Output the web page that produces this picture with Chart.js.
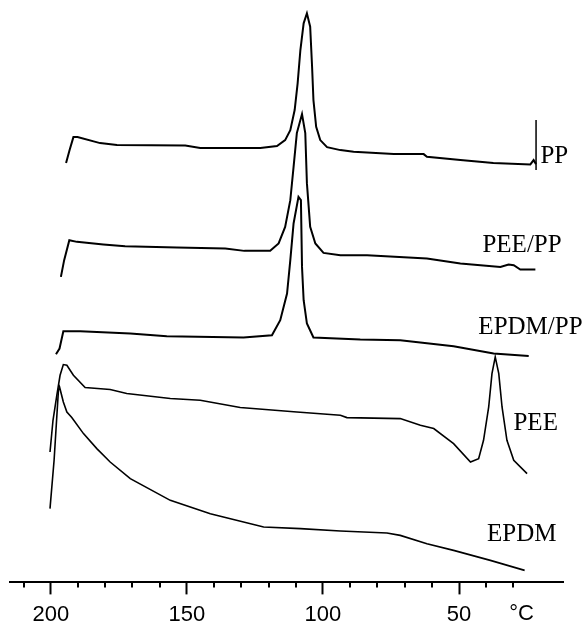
<!DOCTYPE html>
<html>
<head>
<meta charset="utf-8">
<script src="https://cdn.jsdelivr.net/npm/chart.js@4.4.1/dist/chart.umd.min.js"></script>
<style>
  body { margin: 0; background: #fff; }
  canvas { display: block; }
</style>
</head>
<body>
<canvas id="mycanvas" width="586" height="624"></canvas>
<script>
// DSC cooling curves, temperature in degC, heat flow in arbitrary (offset) units
var ppTemp = [194.4, 193.1, 191.7, 190.2, 181.9, 175.7, 150.6, 145.1, 123.0, 116.9, 113.9, 112.0, 110.4, 109.3, 108.3, 107.1, 105.9, 104.7, 104.0, 103.5, 102.5, 101.0, 98.5, 93.6, 88.75, 74.0, 63.0, 61.8, 49.5, 37.4, 23.8, 22.6, 21.7];
var ppFlow = [419, 432, 445, 445, 439, 437, 436.7, 434, 434, 436, 442, 452, 472, 499, 532, 558.7, 568.7, 555.3, 515.3, 482, 455.3, 442, 435, 432, 430.3, 428, 428, 425.3, 422, 419, 417.7, 422, 418];
var ppMarkTemp = [21.7, 21.7];
var ppMarkFlow = [412, 462];

var peePpTemp = [196.3, 195.1, 193.2, 190.4, 180.7, 172.7, 153.7, 135.9, 128.9, 119.4, 116.3, 113.9, 112.0, 110.8, 109.6, 107.7, 106.5, 105.9, 104.7, 102.8, 99.8, 93.6, 83.8, 61.8, 49.5, 34.8, 31.8, 29.9, 27.5, 21.95];
var peePpFlow = [305.3, 322, 342, 340.3, 337.7, 336, 334.7, 333.7, 331.3, 331.3, 338.7, 355.3, 382, 415.3, 449, 468, 449, 399, 355.3, 338.7, 329.3, 327, 327, 323.7, 318.7, 315.3, 317.7, 317, 312.7, 312.7];

var epdmPpTemp = [198.1, 196.8, 195.4, 189.2, 170.8, 157.4, 129.2, 118.75, 115.7, 113.2, 112.0, 110.8, 109.0, 108.1, 107.7, 107.1, 105.9, 103.5, 86.3, 71.6, 52.0, 37.3, 24.4];
var epdmPpFlow = [228, 233.7, 251, 251, 248.7, 246, 244.7, 247, 262, 288.7, 322, 358.7, 385.3, 382, 315.3, 282, 258.7, 244.7, 242.7, 242, 236, 228.7, 226.3];

var peeTemp = [200.3, 199.2, 197.8, 196.6, 195.4, 194.1, 191.7, 187.4, 178.2, 172.1, 156.1, 145.1, 130.4, 109.6, 93.6, 91.2, 71.6, 64.2, 59.3, 52.0, 45.8, 42.8, 41.0, 39.1, 37.9, 36.7, 35.4, 34.2, 32.4, 29.9, 25.0];
var peeFlow = [130.3, 162, 187, 207, 217.7, 217, 207, 194.7, 192.7, 188.7, 183.7, 182, 174.7, 170.3, 167, 164.7, 163.7, 157, 153.7, 138.7, 120.3, 123.7, 142, 175.3, 208.7, 225.3, 208.7, 175.3, 142, 122, 108.7];

var epdmTemp = [200.3, 198.8, 197.2, 196.8, 195.4, 194.1, 192.3, 188.0, 183.1, 178.2, 170.8, 156.1, 141.4, 121.8, 108.3, 93.6, 76.5, 71.6, 61.8, 52.0, 38.5, 25.9];
var epdmFlow = [73.7, 122, 192, 195.3, 180.3, 170.3, 164.7, 148.7, 133.7, 120.3, 103.7, 82, 68.7, 55.3, 53.7, 51.3, 49.3, 47, 38.7, 32, 22, 12];

var curveNames = ['PP', 'PEE/PP', 'EPDM/PP', 'PEE', 'EPDM'];
// where each name sits (temperature, heat flow)
var labelTemp = [20.1, 41.4, 42.9, 30.0, 39.7];
var labelFlow = [426, 337, 255, 159, 48];

var tickLabels = [200, 150, 100, 50];

function pts(t, f) {
	var out = [];
	for (var i in t) {
		out.push({x: t[i], y: f[i]});
	}
	return out;
}

function line(label, t, f, w) {
	return {
		label: label,
		data: pts(t, f),
		borderColor: '#000',
		borderWidth: w,
		pointRadius: 0,
		fill: false,
		tension: 0
	};
}

var curveLabels = {
	id: 'curveLabels',
	afterDraw: function(chart) {
		var ctx = chart.ctx;
		var xs = chart.scales.x;
		var ys = chart.scales.y;
		ctx.save();
		ctx.fillStyle = '#000';
		ctx.font = '25px "Liberation Serif", "Times New Roman", serif';
		ctx.textAlign = 'left';
		ctx.textBaseline = 'middle';
		for (var i in curveNames) {
			ctx.fillText(curveNames[i], xs.getPixelForValue(labelTemp[i]), ys.getPixelForValue(labelFlow[i]));
		}
		// minor ticks
		ctx.strokeStyle = '#000';
		ctx.lineWidth = 2;
		var top = chart.chartArea.bottom;
		for (var v = 30; v <= 210; v += 10) {
			if (v % 50 === 0) continue;
			var px = Math.round(xs.getPixelForValue(v));
			ctx.beginPath();
			ctx.moveTo(px, top);
			ctx.lineTo(px, top + 5);
			ctx.stroke();
		}
		// unit
		ctx.font = '22px "Liberation Sans Narrow", "Liberation Sans", sans-serif';
		ctx.textAlign = 'center';
		ctx.fillText('\u00B0C', xs.getPixelForValue(27), top + 32);
		ctx.restore();
	}
};

var ctx = document.getElementById('mycanvas');

var chart = new Chart(ctx, {
	type: 'line',
	data: {
		datasets: [
			line('PP', ppTemp, ppFlow, 2),
			line('PP end', ppMarkTemp, ppMarkFlow, 1.5),
			line('PEE/PP', peePpTemp, peePpFlow, 2),
			line('EPDM/PP', epdmPpTemp, epdmPpFlow, 2),
			line('PEE', peeTemp, peeFlow, 1.6),
			line('EPDM', epdmTemp, epdmFlow, 1.6)
		]
	},
	options: {
		responsive: false,
		animation: false,
		layout: { padding: { left: 10, right: 23, top: 0, bottom: -12 } },
		plugins: {
			legend: { display: false },
			tooltip: { enabled: false }
		},
		scales: {
			x: {
				type: 'linear',
				reverse: true,
				min: 11.8,
				max: 215,
				afterBuildTicks: function(axis) {
					axis.ticks = axis.ticks.filter(function(t) { return t.value >= 30 && t.value <= 210; });
				},
				border: { display: true, color: '#000', width: 2 },
				grid: {
					drawOnChartArea: false,
					drawTicks: true,
					tickLength: 12,
					tickWidth: 2,
					tickColor: function(c) {
						return tickLabels.indexOf(c.tick.value) >= 0 ? '#000' : 'rgba(0,0,0,0)';
					}
				},
				ticks: {
					stepSize: 10,
					includeBounds: false,
					autoSkip: false,
					maxRotation: 0,
					padding: 12,
					color: '#000',
					font: { family: '"Liberation Sans Narrow", "Liberation Sans", sans-serif', size: 22, lineHeight: 0.8 },
					callback: function(v) {
						return tickLabels.indexOf(v) >= 0 ? String(v) : '';
					}
				}
			},
			y: {
				display: false,
				min: 0,
				max: 582
			}
		}
	},
	plugins: [curveLabels]
});
</script>
</body>
</html>
